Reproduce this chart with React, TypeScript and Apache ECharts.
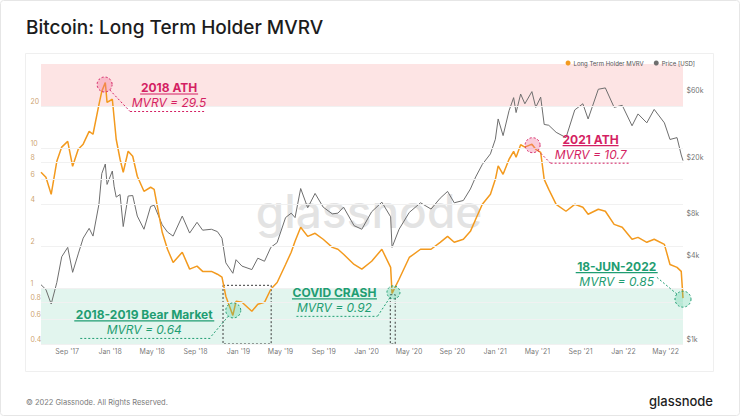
import React, { useEffect, useRef } from 'react';
import * as echarts from 'echarts';

// ---------- DATA ----------
const dates = [
  // 2017
  '2017-06-17', '2017-07-01', '2017-07-16', '2017-08-01', '2017-08-15', '2017-09-01', '2017-09-15', '2017-10-01',
  '2017-10-15', '2017-11-01', '2017-11-12', '2017-11-29', '2017-12-07', '2017-12-17', '2017-12-22',
  // 2018
  '2018-01-06', '2018-01-11', '2018-01-17', '2018-01-28', '2018-02-06', '2018-02-20', '2018-03-05', '2018-03-18',
  '2018-04-06', '2018-04-25', '2018-05-05', '2018-05-28', '2018-06-12', '2018-06-28', '2018-07-24', '2018-08-14',
  '2018-09-04', '2018-09-20', '2018-10-15', '2018-11-01', '2018-11-14', '2018-11-25', '2018-12-15', '2018-12-24',
  // 2019
  '2019-01-10', '2019-02-07', '2019-02-24', '2019-03-15', '2019-04-02', '2019-04-20', '2019-05-14', '2019-05-30',
  '2019-06-10', '2019-06-26', '2019-07-16', '2019-08-06', '2019-08-29', '2019-09-24', '2019-10-10', '2019-10-26',
  '2019-11-25', '2019-12-17',
  // 2020
  '2020-01-14', '2020-02-12', '2020-03-08', '2020-03-12', '2020-04-01', '2020-04-30', '2020-06-01', '2020-07-01',
  '2020-07-27', '2020-08-17', '2020-09-05', '2020-10-01', '2020-10-21', '2020-11-05', '2020-11-24', '2020-12-17',
  '2020-12-31',
  // 2021
  '2021-01-08', '2021-01-22', '2021-02-08', '2021-02-21', '2021-02-28', '2021-03-13', '2021-03-25', '2021-04-14',
  '2021-04-25', '2021-05-09', '2021-05-19', '2021-06-01', '2021-06-22', '2021-07-20', '2021-08-14', '2021-09-06',
  '2021-09-21', '2021-10-20', '2021-11-09', '2021-12-04', '2021-12-27',
  // 2022
  '2022-01-24', '2022-02-10', '2022-03-07', '2022-03-28', '2022-04-26', '2022-05-12', '2022-06-01', '2022-06-13',
  '2022-06-18',
];

const lthMvrv = [
  // 2017
  6.74, 6.21, 4.69, 8.07, 10.2, 11.2, 7.44, 9.84,
  10.7, 13.2, 12.6, 20.6, 25.5, 29.5, 21.3,
  // 2018
  22.4, 16.6, 11.6, 8.35, 6.74, 9.52, 8.77, 6.31,
  4.93, 5.27, 5.09, 2.51, 1.9, 1.53, 1.81, 1.37,
  1.44, 1.32, 1.32, 1.26, 1.2, 0.877, 0.64, 0.807,
  // 2019
  0.794, 0.685, 0.769, 0.794, 0.984, 1.1, 1.48, 1.81,
  2.17, 2.73, 2.35, 2.47, 2.24, 1.96, 1.9, 1.75,
  1.48, 1.37,
  // 2020
  1.56, 1.9, 1.41, 0.92, 1.16, 1.66, 1.9, 1.9,
  2.13, 2.35, 2.13, 2.24, 2.55, 3.11, 3.98, 4.69,
  6.0,
  // 2021
  7.5, 6.52, 8.35, 9.5, 8.63, 10.6, 10.2, 10.7,
  9.84, 9.36, 6.0, 5.09, 3.98, 3.55, 3.98, 3.79,
  3.38, 3.67, 3.55, 2.86, 2.73,
  // 2022
  2.24, 2.31, 2.13, 2.24, 2.06, 1.48, 1.41, 1.32,
  0.85,
];

const priceUsd = [
  // 2017
  2650, 2450, 1930, 2750, 4200, 4900, 3250, 4400,
  5700, 6700, 5900, 10000, 16500, 19300, 13800,
  // 2018
  17200, 13400, 11200, 11700, 6900, 11400, 11500, 8200,
  6600, 9600, 9800, 7100, 6300, 5900, 8200, 6200,
  7400, 6500, 6600, 6350, 5700, 3800, 3200, 4000,
  // 2019
  3600, 3400, 4100, 3900, 4900, 5300, 8000, 8600,
  8000, 12900, 9400, 11900, 9500, 8500, 8600, 9500,
  7000, 6600,
  // 2020
  8800, 10300, 8100, 4900, 6600, 8700, 10200, 9200,
  11000, 12300, 10200, 10600, 12800, 15600, 19200, 22800,
  29000,
  // 2021
  40500, 30800, 46400, 57500, 45000, 61000, 52000, 63500,
  49000, 58000, 37000, 36500, 32500, 29800, 47000, 52000,
  40500, 66000, 67500, 49000, 50700,
  // 2022
  36200, 44000, 38000, 47400, 38000, 28900, 29800, 22400,
  20400,
];

const mvrvTicks = [20, 10, 8, 6, 4, 2, 1, 0.8, 0.6, 0.4];
const priceTicks = [60000, 20000, 8000, 4000, 1000];
const priceTickLabels = ['$60k', '$20k', '$8k', '$4k', '$1k'];
const xTickDates = [
  '2017-09-01', '2018-01-01', '2018-05-01', '2018-09-01', '2019-01-01', '2019-05-01', '2019-09-01',
  '2020-01-01', '2020-05-01', '2020-09-01', '2021-01-01', '2021-05-01', '2021-09-01', '2022-01-01', '2022-05-01',
];
const xTickLabels = [
  "Sep '17", "Jan '18", "May '18", "Sep '18", "Jan '19", "May '19", "Sep '19",
  "Jan '20", "May '20", "Sep '20", "Jan '21", "May '21", "Sep '21", "Jan '22", "May '22",
];

// zones (MVRV)
const overheatedZone = [20, 40];
const undervaluedZone = [0.4, 1];
// dashed highlight boxes: [startDate, endDate, topMvrv, bottomMvrv]
const bearBox = ['2018-11-17', '2019-04-03', 1.05, 0.4];
const covidBox = ['2020-03-07', '2020-03-21', 0.9, 0.4];

// annotations
const annotationDates = ['2017-12-17', '2018-12-15', '2020-03-12', '2021-04-14', '2022-06-18'];
const annotationValues = [29.5, 0.64, 0.92, 10.7, 0.85];
const annotationTitles = ['2018 ATH', '2018-2019 Bear Market', 'COVID CRASH', '2021 ATH', '18-JUN-2022'];
const annotationSubs = ['MVRV = 29.5', 'MVRV = 0.64', 'MVRV = 0.92', 'MVRV = 10.7', 'MVRV = 0.85'];

// ---------- STYLE / LAYOUT ----------
const PINK = '#d41f63';
const GREEN = '#1f9d72';
const ORANGE = '#f39a1e';
const GREY = '#6e6e6e';
const FONT = 'Inter, "Noto Sans", sans-serif';
const X_MIN_DATE = '2017-06-17';
const X_MAX_DATE = '2022-06-18';

// per annotation: tone, circle offset, title centre offset, underline half width,
// dashed horizontal [x1,x2] offsets (or null), diagonal end offset, radius
const annotationLayout = [
  { tone: 'pink', c: [-0.7, 2], t: [63.8, 5], uw: 29, dash: [24.8, 99.8], end: [24.8, 29], r: 7.5 },
  { tone: 'green', c: [0.4, -5], t: [-88.6, -1], uw: 70, dash: [-152.6, -22.6], end: [-22.6, 22], r: 7.5 },
  { tone: 'green', c: [1.4, -1], t: [-57.6, -1], uw: 42.5, dash: [-95.6, -14.6], end: [-14.6, 23], r: 6.5 },
  { tone: 'pink', c: [0.7, 1], t: [58.7, -5], uw: 28, dash: [18.7, 96.7], end: [18.7, 19], r: 7.5 },
  { tone: 'green', c: [0, 1], t: [-66.3, -32], uw: 41, dash: null, end: [-26.3, -21], r: 8 },
];

const ts = (d: string) => Date.parse(d + 'T00:00:00Z');

function text(x: number, y: number, str: string, font: string, fill: string, align = 'left', z = 10) {
  return {
    type: 'text',
    z,
    silent: true,
    style: {
      x,
      y,
      text: str,
      font,
      fill,
      align,
      textAlign: align,
      verticalAlign: 'middle',
      textVerticalAlign: 'middle',
    },
  };
}

export default function App() {
  const ref = useRef<HTMLDivElement>(null);

  useEffect(() => {
    if (!ref.current) return;
    const chart = echarts.init(ref.current, undefined, { renderer: 'svg' });
    const X_MIN = ts(X_MIN_DATE);
    const X_MAX = ts(X_MAX_DATE);

    const boxStyle = {
      color: 'rgba(0,0,0,0)',
      borderColor: '#3a3a3a',
      borderWidth: 1,
      borderType: [2, 2],
    };

    const staticGraphic: any[] = [
      {
        type: 'rect',
        z: 0,
        silent: true,
        shape: { x: 0.5, y: 0.5, width: 739, height: 415, r: 3 },
        style: { fill: 'none', stroke: '#e6e6e6', lineWidth: 1 },
      },
      {
        type: 'rect',
        z: 0,
        silent: true,
        shape: { x: 25.5, y: 53.5, width: 688, height: 318 },
        style: { fill: 'none', stroke: '#efefef', lineWidth: 1 },
      },
      text(26, 27, 'Bitcoin: Long Term Holder MVRV', `500 19px ${FONT}`, '#1c1c1c'),
      text(26, 402, '© 2022 Glassnode. All Rights Reserved.', `7.5px ${FONT}`, '#7a7a7a'),
      text(713, 401, 'glassnode', `500 13px ${FONT}`, '#1e1e1e', 'right'),
      text(369, 211, 'glassnode', `500 46px ${FONT}`, 'rgba(200,200,200,0.5)', 'center', 1),
    ];

    const option: any = {
      animation: false,
      backgroundColor: '#ffffff',
      textStyle: { fontFamily: FONT },
      grid: { left: 41, right: 57, top: 64, bottom: 72 },
      legend: {
        data: ['Long Term Holder MVRV', 'Price [USD]'],
        right: 40,
        top: 55,
        icon: 'circle',
        itemWidth: 5,
        itemHeight: 5,
        itemGap: 10,
        textStyle: { fontSize: 6, color: '#555', padding: [0, 0, 0, -2] },
        selectedMode: false,
      },
      xAxis: {
        type: 'time',
        min: X_MIN,
        max: X_MAX,
        axisLine: { show: false },
        axisTick: { show: false },
        axisLabel: { show: false },
        splitLine: { show: false },
      },
      yAxis: [
        {
          type: 'log',
          logBase: 10,
          min: 0.4,
          max: 40,
          axisLine: { show: false },
          axisTick: { show: false },
          axisLabel: { show: false },
          splitLine: { show: false },
        },
        {
          type: 'log',
          logBase: 10,
          min: 1000,
          max: 100000,
          position: 'right',
          axisLine: { show: false },
          axisTick: { show: false },
          axisLabel: { show: false },
          splitLine: { show: false },
        },
      ],
      series: [
        {
          name: 'mvrvAxis',
          type: 'scatter',
          yAxisIndex: 0,
          z: 1,
          silent: true,
          clip: false,
          symbolSize: 1,
          itemStyle: { color: 'rgba(0,0,0,0)' },
          data: mvrvTicks.map((v) => [X_MIN, v]),
          label: {
            show: true,
            position: [-10, -4],
            align: 'left',
            verticalAlign: 'middle',
            fontSize: 7,
            color: '#c08a48',
            formatter: (p: any) => String(mvrvTicks[p.dataIndex]),
          },
          markLine: {
            silent: true,
            symbol: 'none',
            label: { show: false },
            lineStyle: { color: '#f1f1f1', type: 'solid', width: 1 },
            data: mvrvTicks.map((v) => ({ yAxis: v })),
          },
          markArea: {
            silent: true,
            label: { show: false },
            data: [
              [{ yAxis: overheatedZone[0], itemStyle: { color: '#fde4e4' } }, { yAxis: overheatedZone[1] }],
              [{ yAxis: undervaluedZone[0], itemStyle: { color: '#e2f5ee' } }, { yAxis: undervaluedZone[1] }],
              [
                { xAxis: ts(bearBox[0] as string), yAxis: bearBox[2], itemStyle: boxStyle },
                { xAxis: ts(bearBox[1] as string), yAxis: bearBox[3] },
              ],
              [
                { xAxis: ts(covidBox[0] as string), yAxis: covidBox[2], itemStyle: boxStyle },
                { xAxis: ts(covidBox[1] as string), yAxis: covidBox[3] },
              ],
            ],
          },
        },
        {
          name: 'Price [USD]',
          type: 'line',
          yAxisIndex: 1,
          z: 2,
          symbol: 'none',
          showSymbol: false,
          lineStyle: { color: GREY, width: 1 },
          itemStyle: { color: GREY },
          data: dates.map((d, i) => [ts(d), priceUsd[i]]),
        },
        {
          name: 'Long Term Holder MVRV',
          type: 'line',
          yAxisIndex: 0,
          z: 3,
          symbol: 'none',
          showSymbol: false,
          lineStyle: { color: ORANGE, width: 1.5 },
          itemStyle: { color: ORANGE },
          data: dates.map((d, i) => [ts(d), lthMvrv[i]]),
        },
        {
          name: 'priceAxis',
          type: 'scatter',
          yAxisIndex: 1,
          z: 1,
          silent: true,
          clip: false,
          symbolSize: 1,
          itemStyle: { color: 'rgba(0,0,0,0)' },
          data: priceTicks.map((v) => [X_MAX, v]),
          label: {
            show: true,
            position: [4, -4],
            align: 'left',
            verticalAlign: 'middle',
            fontSize: 7,
            color: '#4a4a4a',
            formatter: (p: any) => priceTickLabels[p.dataIndex],
          },
        },
        {
          name: 'timeAxis',
          type: 'scatter',
          yAxisIndex: 0,
          z: 1,
          silent: true,
          clip: false,
          symbolSize: 1,
          itemStyle: { color: 'rgba(0,0,0,0)' },
          data: xTickDates.map((d) => [ts(d), 0.4]),
          label: {
            show: true,
            position: [0, 8],
            align: 'center',
            verticalAlign: 'middle',
            fontSize: 7,
            color: '#555',
            formatter: (p: any) => xTickLabels[p.dataIndex],
          },
        },
      ],
      graphic: staticGraphic,
    };

    chart.setOption(option);

    // annotations anchored to data through the chart's own scales
    const annoGraphic: any[] = [];
    annotationDates.forEach((d, i) => {
      const L = annotationLayout[i];
      const p = chart.convertToPixel({ xAxisIndex: 0, yAxisIndex: 0 }, [ts(d), annotationValues[i]]) as number[];
      const color = L.tone === 'pink' ? PINK : GREEN;
      const fill = L.tone === 'pink' ? 'rgba(240,110,150,0.35)' : 'rgba(70,200,150,0.28)';
      const cx = p[0] + L.c[0];
      const cy = p[1] + L.c[1];
      const tx = p[0] + L.t[0];
      const ty = p[1] + L.t[1];
      annoGraphic.push({
        type: 'circle',
        z: 12,
        silent: true,
        shape: { cx, cy, r: L.r },
        style: { fill, stroke: color, lineWidth: 1, lineDash: [2, 2] },
      });
      annoGraphic.push(text(tx, ty, annotationTitles[i], `bold 12px ${FONT}`, color, 'center', 12));
      annoGraphic.push({
        type: 'line',
        z: 12,
        silent: true,
        shape: { x1: tx - L.uw, y1: ty + 6.5, x2: tx + L.uw, y2: ty + 6.5 },
        style: { stroke: color, lineWidth: 1.2 },
      });
      annoGraphic.push(text(tx, ty + 15, annotationSubs[i], `italic 12px ${FONT}`, color, 'center', 12));
      if (L.dash) {
        annoGraphic.push({
          type: 'line',
          z: 12,
          silent: true,
          shape: { x1: p[0] + L.dash[0], y1: ty + 24, x2: p[0] + L.dash[1], y2: ty + 24 },
          style: { stroke: color, lineWidth: 1, lineDash: [2, 2] },
        });
      }
      const ex = p[0] + L.end[0];
      const ey = p[1] + L.end[1];
      const dx = ex - cx;
      const dy = ey - cy;
      const len = Math.sqrt(dx * dx + dy * dy) || 1;
      annoGraphic.push({
        type: 'line',
        z: 12,
        silent: true,
        shape: { x1: cx + (dx / len) * L.r, y1: cy + (dy / len) * L.r, x2: ex, y2: ey },
        style: { stroke: color, lineWidth: 1, lineDash: [2, 2] },
      });
    });

    chart.setOption({ graphic: [...staticGraphic, ...annoGraphic] });

    return () => chart.dispose();
  }, []);

  return (
    <div
      ref={ref}
      style={{ position: 'fixed', left: 0, top: 0, width: 740, height: 416, background: '#fff' }}
    />
  );
}
